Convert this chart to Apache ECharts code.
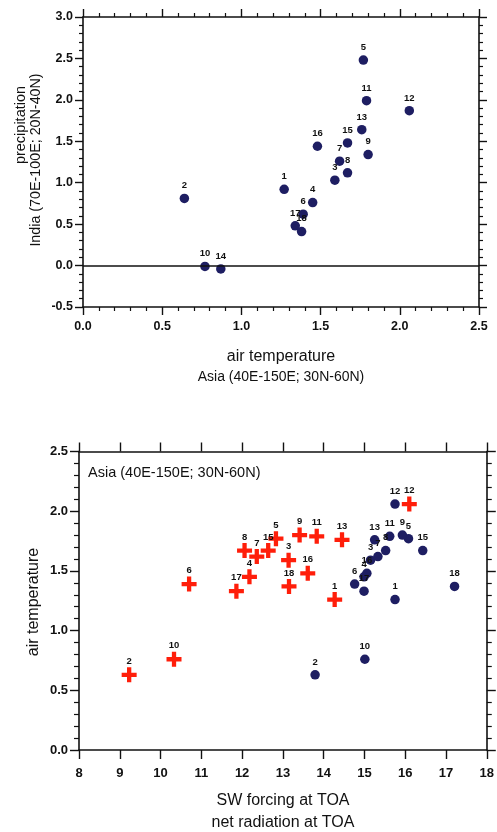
<!DOCTYPE html>
<html>
<head>
<meta charset="utf-8">
<script src="https://cdn.jsdelivr.net/npm/echarts@6/dist/echarts.min.js"></script>
<style>
html,body{margin:0;padding:0;background:#fff;}
#c{width:497px;height:832px;}
</style>
</head>
<body>
<div id="c"></div>
<script>
// ---- Top panel: air temperature (Asia) vs precipitation (India) ----
const months = [1,2,3,4,5,6,7,8,9,10,11,12,13,14,15,16,17,18];
const airTemp = [1.27,0.64,1.59,1.45,1.77,1.39,1.62,1.67,1.80,0.77,1.79,2.06,1.76,0.87,1.67,1.48,1.34,1.38];
const precip  = [0.92,0.81,1.03,0.76,2.48,0.62,1.26,1.12,1.34,-0.01,1.99,1.87,1.64,-0.04,1.48,1.44,0.48,0.41];
const topXTicks = [0.0,0.5,1.0,1.5,2.0,2.5];
const topYTicks = [-0.5,0.0,0.5,1.0,1.5,2.0,2.5,3.0];

// ---- Bottom panel: SW forcing / net radiation at TOA vs air temperature ----
const bottomMonths  = [1,2,3,4,5,6,7,8,9,10,11,12,13,15,16,17,18];
const bottomAirTemp = [1.26,0.63,1.59,1.45,1.77,1.39,1.62,1.67,1.80,0.76,1.79,2.06,1.76,1.67,1.48,1.33,1.37];
const swForcing     = [14.27,9.23,13.14,12.18,12.83,10.70,12.36,12.06,13.41,10.33,13.83,16.10,14.45,12.64,13.61,11.86,13.15];
const netRadiation  = [15.75,13.79,15.15,14.99,16.08,14.76,15.33,15.52,15.93,15.01,15.62,15.75,15.25,16.43,15.06,14.99,17.21];
const botXTicks = [8,9,10,11,12,13,14,15,16,17,18];
const botYTicks = [0.0,0.5,1.0,1.5,2.0,2.5];

const FONT = 'Liberation Sans, Arial, Helvetica, sans-serif';
const BLUE = '#1e1e62';
const RED = '#ff1e0a';
const CROSS = 'path://M5,0H9V5H14V9H9V14H5V9H0V5H5Z';

function axisCommon(o){
  return Object.assign({
    type:'value',
    splitLine:{show:false},
    axisLine:{show:true, onZero:false, lineStyle:{color:'#111', width:1.6}},
  }, o);
}

const topData = months.map((m,i)=>[airTemp[i], precip[i], m]);
const redData = bottomMonths.map((m,i)=>[swForcing[i], bottomAirTemp[i], m]);
const blueData = bottomMonths.map((m,i)=>[netRadiation[i], bottomAirTemp[i], m]);

const ptLabel = {
  show:true, position:'top', distance:3,
  formatter:p=>String(p.value[2]),
  fontFamily:FONT, fontWeight:'bold', fontSize:9.5, color:'#111'
};

const tickLblTop = {fontFamily:FONT, fontWeight:'bold', fontSize:12.5, color:'#111'};
const tickLblBot = {fontFamily:FONT, fontWeight:'bold', fontSize:13, color:'#111'};

const option = {
  animation:false,
  backgroundColor:'#fff',
  grid:[
    {left:83, top:17, width:396, height:290},
    {left:79, top:451.5, width:408, height:298.5}
  ],
  xAxis:[
    axisCommon({gridIndex:0, position:'bottom', min:topXTicks[0], max:topXTicks[topXTicks.length-1], interval:0.5,
      axisTick:{show:true, inside:false, length:8, lineStyle:{color:'#111', width:1.4}},
      minorTick:{show:true, splitNumber:5, length:4, lineStyle:{color:'#111', width:1.2}},
      axisLabel:Object.assign({margin:13, formatter:v=>v.toFixed(1)}, tickLblTop)}),
    axisCommon({gridIndex:0, position:'top', min:topXTicks[0], max:topXTicks[topXTicks.length-1], interval:0.5,
      axisTick:{show:true, inside:false, length:8, lineStyle:{color:'#111', width:1.4}},
      minorTick:{show:true, splitNumber:5, length:4, lineStyle:{color:'#111', width:1.2}},
      axisLabel:{show:false}}),
    axisCommon({gridIndex:1, position:'bottom', min:botXTicks[0], max:botXTicks[botXTicks.length-1], interval:1,
      axisTick:{show:true, inside:false, length:9, lineStyle:{color:'#111', width:1.4}},
      axisLabel:Object.assign({margin:17}, tickLblBot)}),
    axisCommon({gridIndex:1, position:'top', min:botXTicks[0], max:botXTicks[botXTicks.length-1], interval:1,
      axisTick:{show:true, inside:false, length:9, lineStyle:{color:'#111', width:1.4}},
      axisLabel:{show:false}})
  ],
  yAxis:[
    axisCommon({gridIndex:0, position:'left', min:topYTicks[0], max:topYTicks[topYTicks.length-1], interval:0.5,
      axisTick:{show:true, inside:false, length:8, lineStyle:{color:'#111', width:1.4}},
      minorTick:{show:true, splitNumber:5, length:4, lineStyle:{color:'#111', width:1.2}},
      axisLabel:Object.assign({margin:10, formatter:v=>v.toFixed(1)}, tickLblTop)}),
    axisCommon({gridIndex:0, position:'right', min:topYTicks[0], max:topYTicks[topYTicks.length-1], interval:0.5,
      axisTick:{show:true, inside:false, length:8, lineStyle:{color:'#111', width:1.4}},
      minorTick:{show:true, splitNumber:5, length:4, lineStyle:{color:'#111', width:1.2}},
      axisLabel:{show:false}}),
    axisCommon({gridIndex:1, position:'left', min:botYTicks[0], max:botYTicks[botYTicks.length-1], interval:0.5,
      axisTick:{show:true, inside:false, length:9, lineStyle:{color:'#111', width:1.4}},
      minorTick:{show:true, splitNumber:5, length:5, lineStyle:{color:'#111', width:1.2}},
      axisLabel:Object.assign({margin:11, formatter:v=>v.toFixed(1)}, tickLblBot)}),
    axisCommon({gridIndex:1, position:'right', min:botYTicks[0], max:botYTicks[botYTicks.length-1], interval:0.5,
      axisTick:{show:true, inside:false, length:9, lineStyle:{color:'#111', width:1.4}},
      minorTick:{show:true, splitNumber:5, length:5, lineStyle:{color:'#111', width:1.2}},
      axisLabel:{show:false}})
  ],
  series:[
    {type:'scatter', xAxisIndex:0, yAxisIndex:0, data:topData, symbol:'circle', symbolSize:9.5,
      itemStyle:{color:BLUE, opacity:1}, label:ptLabel,
      markLine:{silent:true, symbol:['none','none'], label:{show:false},
        lineStyle:{color:'#111', type:'solid', width:1.6}, data:[{yAxis:0}]}},
    {type:'scatter', xAxisIndex:2, yAxisIndex:2, data:blueData, symbol:'circle', symbolSize:9.5,
      itemStyle:{color:BLUE, opacity:1}, label:ptLabel},
    {type:'scatter', xAxisIndex:2, yAxisIndex:2, data:redData, symbol:CROSS, symbolSize:15,
      itemStyle:{color:RED, opacity:1}, label:Object.assign({}, ptLabel, {distance:1})}
  ],
  graphic:[
    {type:'text', x:21, y:125, rotation:Math.PI/2,
      style:{text:'precipitation', font:'14.5px '+FONT, fill:'#111', textAlign:'center', textVerticalAlign:'middle'}},
    {type:'text', x:36, y:160, rotation:Math.PI/2,
      style:{text:'India (70E-100E; 20N-40N)', font:'14.3px '+FONT, fill:'#111', textAlign:'center', textVerticalAlign:'middle'}},
    {type:'text', x:281, y:357,
      style:{text:'air temperature', font:'16px '+FONT, fill:'#111', textAlign:'center', textVerticalAlign:'middle'}},
    {type:'text', x:281, y:377,
      style:{text:'Asia (40E-150E; 30N-60N)', font:'14px '+FONT, fill:'#111', textAlign:'center', textVerticalAlign:'middle'}},
    {type:'text', x:34, y:602, rotation:Math.PI/2,
      style:{text:'air temperature', font:'16px '+FONT, fill:'#111', textAlign:'center', textVerticalAlign:'middle'}},
    {type:'text', x:88, y:473,
      style:{text:'Asia (40E-150E; 30N-60N)', font:'14.5px '+FONT, fill:'#111', textAlign:'left', textVerticalAlign:'middle'}},
    {type:'text', x:283, y:801,
      style:{text:'SW forcing at TOA', font:'16px '+FONT, fill:'#111', textAlign:'center', textVerticalAlign:'middle'}},
    {type:'text', x:283, y:823,
      style:{text:'net radiation at TOA', font:'16px '+FONT, fill:'#111', textAlign:'center', textVerticalAlign:'middle'}}
  ]
};

const chart = echarts.init(document.getElementById('c'), null, {renderer:'canvas'});
chart.setOption(option);
</script>
</body>
</html>
